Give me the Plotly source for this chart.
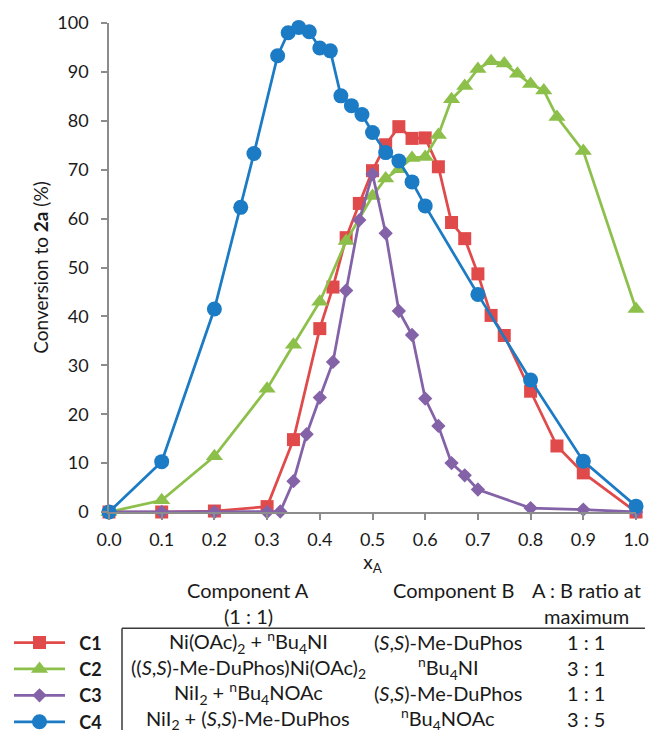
import plotly.graph_objects as go

# Mole fraction of component A and conversion to 2a (%) for each catalyst system
xa_c1 = [0, 0.1, 0.2, 0.3, 0.35, 0.4, 0.425, 0.45, 0.475, 0.5, 0.525, 0.55, 0.575, 0.6,
         0.625, 0.65, 0.675, 0.7, 0.725, 0.75, 0.8, 0.85, 0.9, 1.0]
conv_c1 = [0, 0, 0.2, 1.1, 14.8, 37.5, 46.0, 56.1, 63.1, 69.8, 75.1, 78.8, 76.4, 76.5,
           70.6, 59.2, 55.9, 48.7, 40.2, 36.1, 24.7, 13.5, 8.0, 0]

xa_c2 = [0, 0.1, 0.2, 0.3, 0.35, 0.4, 0.45, 0.5, 0.525, 0.55, 0.575, 0.6, 0.625, 0.65,
         0.675, 0.7, 0.725, 0.75, 0.775, 0.8, 0.825, 0.85, 0.9, 1.0]
conv_c2 = [0, 2.4, 11.4, 25.2, 34.2, 43.0, 55.4, 64.6, 68.2, 70.1, 72.4, 72.6, 77.1, 84.4,
           87.1, 90.6, 92.2, 91.7, 89.6, 87.5, 86.2, 80.8, 73.8, 41.5]

xa_c3 = [0, 0.1, 0.2, 0.3, 0.325, 0.35, 0.375, 0.4, 0.425, 0.45, 0.475, 0.5, 0.525, 0.55,
         0.575, 0.6, 0.625, 0.65, 0.675, 0.7, 0.8, 0.9, 1.0]
conv_c3 = [0, 0, 0, 0, 0.1, 6.3, 15.9, 23.4, 30.7, 45.3, 59.7, 69.1, 57.0, 41.1,
           36.2, 23.2, 17.6, 10.0, 7.5, 4.6, 0.8, 0.5, 0]

xa_c4 = [0, 0.1, 0.2, 0.25, 0.275, 0.32, 0.34, 0.36, 0.38, 0.4, 0.42, 0.44, 0.46, 0.48,
         0.5, 0.525, 0.55, 0.575, 0.6, 0.7, 0.8, 0.9, 1.0]
conv_c4 = [0, 10.3, 41.5, 62.3, 73.3, 93.3, 98.0, 99.1, 98.2, 94.9, 94.3, 85.1, 83.1, 81.3,
           77.6, 73.5, 71.8, 67.5, 62.6, 44.5, 27.0, 10.4, 1.2]

series_names = ["C1", "C2", "C3", "C4"]

# Table rows: component A (1:1), component B, A:B ratio at maximum
comp_a = [
    "Ni(OAc)<sub>2</sub> + <sup>n</sup>Bu<sub>4</sub>NI",
    "((<i>S</i>,<i>S</i>)-Me-DuPhos)Ni(OAc)<sub>2</sub>",
    "NiI<sub>2</sub> + <sup>n</sup>Bu<sub>4</sub>NOAc",
    "NiI<sub>2</sub> + (<i>S</i>,<i>S</i>)-Me-DuPhos",
]
comp_b = [
    "(<i>S</i>,<i>S</i>)-Me-DuPhos",
    "<sup>n</sup>Bu<sub>4</sub>NI",
    "(<i>S</i>,<i>S</i>)-Me-DuPhos",
    "<sup>n</sup>Bu<sub>4</sub>NOAc",
]
ratio_at_max = ["1 : 1", "3 : 1", "1 : 1", "3 : 5"]

W, H = 653, 730
ML, MR, MT, MB = 109, 17, 23, 218.3
PW, PH = W - ML - MR, H - MT - MB

FONT = "Lato"
TXT = "#1a1a1a"
AXIS = "#8c8c8c"

styles = [
    dict(color="#E04A4A", symbol="square", size=13),
    dict(color="#8CC04A", symbol="triangle-up", size=15),
    dict(color="#8462A8", symbol="diamond", size=11),
    dict(color="#1B7BC4", symbol="circle", size=15),
]


def px_x(px):
    return (px - ML) / PW


def px_y(py):
    return (H - MB - py) / PH


fig = go.Figure()
for name, xs, ys, st in zip(series_names,
                            [xa_c1, xa_c2, xa_c3, xa_c4],
                            [conv_c1, conv_c2, conv_c3, conv_c4],
                            styles):
    fig.add_trace(go.Scatter(
        x=xs, y=ys, mode="lines+markers",
        name="\u00a0\u00a0<b>" + name + "</b>",
        legendgroup=name,
        line=dict(color=st["color"], width=2.75),
        marker=dict(symbol=st["symbol"], size=st["size"], color=st["color"],
                    line=dict(width=0)),
        cliponaxis=False,
    ))

annotations = []


def add_text(text, cx, cy, size=20):
    annotations.append(dict(
        text=text, x=px_x(cx), y=px_y(cy), xref="paper", yref="paper",
        xanchor="center", yanchor="middle", showarrow=False,
        font=dict(family=FONT, size=size, color=TXT),
    ))


# Table header
add_text("Component A", 248, 590)
add_text("(1 : 1)", 248, 616)
add_text("Component B", 453, 590)
add_text("A : B ratio at", 586, 590)
add_text("maximum", 586, 616)

row_y = [642, 668, 693, 719]
for ry, a, b, r in zip(row_y, comp_a, comp_b, ratio_at_max):
    add_text(a, 248, ry)
    add_text(b, 448, ry)
    add_text(r, 586, ry)

shapes = [
    dict(type="line", xref="paper", yref="paper",
         x0=px_x(122), x1=px_x(645), y0=px_y(628), y1=px_y(628),
         line=dict(color="#3a3a3a", width=1.5)),
    dict(type="line", xref="paper", yref="paper",
         x0=px_x(122), x1=px_x(122), y0=px_y(628), y1=px_y(730),
         line=dict(color="#3a3a3a", width=1.5)),
]

fig.update_layout(
    width=W, height=H,
    margin=dict(l=ML, r=MR, t=MT, b=MB, pad=0, autoexpand=False),
    paper_bgcolor="white", plot_bgcolor="white",
    font=dict(family=FONT, size=18, color=TXT),
    showlegend=True,
    legend=dict(
        x=px_x(9), y=px_y(624), xanchor="left", yanchor="top",
        xref="paper", yref="paper",
        traceorder="grouped", tracegroupgap=0,
        itemwidth=51, bgcolor="rgba(0,0,0,0)",
        font=dict(family=FONT, size=18, color=TXT),
    ),
    annotations=annotations,
    shapes=shapes,
    xaxis=dict(
        range=[0, 1], tickmode="array",
        tickvals=[i / 10 for i in range(11)],
        ticktext=[f"{i / 10:.1f}" for i in range(11)],
        showgrid=False, zeroline=False,
        showline=True, linecolor=AXIS, linewidth=1.5,
        ticks="outside", ticklen=6, tickwidth=1.5, tickcolor=AXIS,
        ticklabelstandoff=5,
        tickfont=dict(family=FONT, size=18, color=TXT),
        title=dict(text="x<sub>A</sub>", standoff=0,
                   font=dict(family=FONT, size=19, color=TXT)),
    ),
    yaxis=dict(
        range=[0, 100], tickmode="array",
        tickvals=list(range(0, 101, 10)),
        showgrid=False, zeroline=False,
        showline=True, linecolor=AXIS, linewidth=1.5,
        ticks="outside", ticklen=6, tickwidth=1.5, tickcolor=AXIS,
        ticklabelstandoff=9,
        tickfont=dict(family=FONT, size=18, color=TXT),
        title=dict(text="Conversion to <b>2a</b> (%)", standoff=4,
                   font=dict(family=FONT, size=19, color=TXT)),
    ),
)

fig.write_html("out.html")
